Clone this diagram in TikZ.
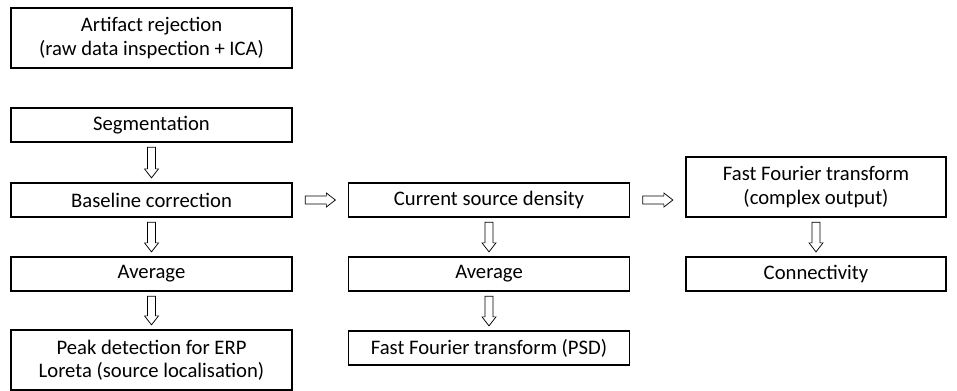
\documentclass[tikz,border=0pt]{standalone}
\usepackage{fontspec}
\setmainfont{Carlito}
\usetikzlibrary{calc}

\begin{document}
\begin{tikzpicture}[x=0.75pt, y=-0.75pt,
    box/.style={draw, line width=0.9pt, minimum width=210.75pt, minimum height=25.5pt,
      inner sep=0pt, align=center, font=\fontsize{15.5}{17.5}\selectfont},
    tall/.style={minimum height=45pt},
    % outlined block arrow, drawn between two border points
    flow/.style={line width=0.55pt, to path={
      let \p1=($(\tikztostart)!#1!(\tikztotarget)$),
          \p2=($(\tikztotarget)!#1!(\tikztostart)$),
          \p3=($(\p2)!6.75pt!(\p1)$) in
      ($(\p1)!3pt!90:(\p2)$) -- ($(\p3)!3pt!-90:(\p1)$) -- ($(\p3)!5.25pt!-90:(\p1)$)
      -- (\p2) -- ($(\p3)!5.25pt!90:(\p1)$) -- ($(\p3)!3pt!90:(\p1)$)
      -- ($(\p1)!3pt!-90:(\p2)$) -- cycle}},
    flow/.default=3.4pt]

      \useasboundingbox (0,0) rectangle (957,390);

      % left column: ERP branch
      \node[box, tall] (artifact) at (151.5,38)
      {Artifact rejection\\(raw data inspection + ICA)};
      \node[box] (segment) at (151.5,125) {Segmentation};
      \node[box] (baseline) at (151.5,200) {Baseline correction};
      \node[box] (averp) at (151.5,274) {Average};
      \node[box, tall] (peak) at (151.5,360)
      {Peak detection for ERP\\Loreta (source localisation)};

      % middle column: power spectrum
      \node[box] (csd) at (489,200) {Current source density};
      \node[box] (avpsd) at (489,274) {Average};
      \node[box] (psd) at (489,348) {Fast Fourier transform (PSD)};

      % right column: connectivity
      \node[box, tall, minimum width=195pt] (fftc) at (816,187)
      {Fast Fourier transform\\(complex output)};
      \node[box, minimum width=195pt] (conn) at (816,274) {Connectivity};

      % the arrows
      \draw[flow] (segment.south) to (baseline.north);
      \draw[flow] (baseline.south) to (averp.north);
      \draw[flow] (averp.south) to (peak.north);
      \draw[flow] (csd.south) to (avpsd.north);
      \draw[flow] (avpsd.south) to (psd.north);
      \draw[flow] (fftc.south) to (conn.north);
      \draw[flow=9.4pt] (baseline.east) to (csd.west);
      \draw[flow=9.4pt] (csd.east) to (csd.east -| fftc.west);
\end{tikzpicture}
\end{document}
